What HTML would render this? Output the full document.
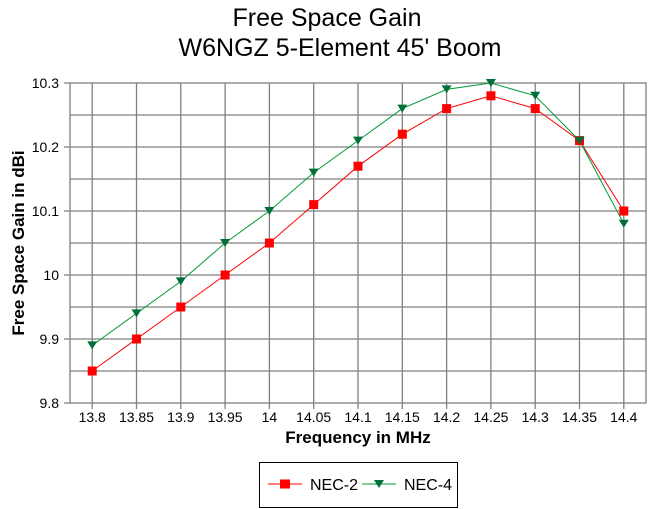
<!DOCTYPE html>
<html><head><meta charset="utf-8"><style>
html,body{margin:0;padding:0;background:#fff;}
svg{display:block;font-family:"Liberation Sans",Arial,sans-serif;}
</style></head><body>
<svg width="651" height="509" viewBox="0 0 651 509" xmlns="http://www.w3.org/2000/svg">
<rect width="651" height="509" fill="#fff"/>
<text x="327" y="26" font-size="25" text-anchor="middle">Free Space Gain</text>
<text x="340" y="56" font-size="25" text-anchor="middle">W6NGZ 5-Element 45' Boom</text>
<g stroke="#808080" stroke-width="1.3" fill="none">
<rect x="70" y="83" width="576" height="320"/>
<path d="M70 115H646M70 147H646M70 179H646M70 211H646M70 243H646M70 275H646M70 307H646M70 339H646M70 371H646"/>
<path d="M92.2 83V403M136.5 83V403M180.8 83V403M225.1 83V403M269.4 83V403M313.7 83V403M358 83V403M402.3 83V403M446.6 83V403M490.9 83V403M535.2 83V403M579.5 83V403M623.8 83V403"/>
<path d="M64 83H70M64 147H70M64 211H70M64 275H70M64 339H70M64 403H70"/>
<path d="M92.2 403V409M136.5 403V409M180.8 403V409M225.1 403V409M269.4 403V409M313.7 403V409M358 403V409M402.3 403V409M446.6 403V409M490.9 403V409M535.2 403V409M579.5 403V409M623.8 403V409"/>
</g>
<g font-size="14" text-anchor="end">
<text x="59" y="88">10.3</text><text x="59" y="152">10.2</text><text x="59" y="216">10.1</text>
<text x="59" y="280">10</text><text x="59" y="344">9.9</text><text x="59" y="408">9.8</text>
</g>
<g font-size="14" text-anchor="middle">
<text x="92.2" y="422">13.8</text><text x="136.5" y="422">13.85</text><text x="180.8" y="422">13.9</text>
<text x="225.1" y="422">13.95</text><text x="269.4" y="422">14</text><text x="313.7" y="422">14.05</text>
<text x="358" y="422">14.1</text><text x="402.3" y="422">14.15</text><text x="446.6" y="422">14.2</text>
<text x="490.9" y="422">14.25</text><text x="535.2" y="422">14.3</text><text x="579.5" y="422">14.35</text>
<text x="623.8" y="422">14.4</text>
</g>
<text x="358" y="443" font-size="17" font-weight="bold" text-anchor="middle">Frequency in MHz</text>
<text transform="translate(24,243) rotate(-90)" font-size="17" font-weight="bold" text-anchor="middle">Free Space Gain in dBi</text>
<polyline fill="none" stroke="#ff0000" stroke-width="1" points="92.2,371 136.5,339 180.8,307 225.1,275 269.4,243 313.7,204.6 358,166.2 402.3,134.2 446.6,108.6 490.9,95.8 535.2,108.6 579.5,140.6 623.8,211"/>
<polyline fill="none" stroke="#009933" stroke-width="1" points="92.2,345.4 136.5,313.4 180.8,281.4 225.1,243 269.4,211 313.7,172.6 358,140.6 402.3,108.6 446.6,89.4 490.9,83 535.2,95.8 579.5,140.6 623.8,223.8"/>
<g fill="#ff0000">
<rect x="87.7" y="366.5" width="9" height="9"/><rect x="132" y="334.5" width="9" height="9"/><rect x="176.3" y="302.5" width="9" height="9"/><rect x="220.6" y="270.5" width="9" height="9"/><rect x="264.9" y="238.5" width="9" height="9"/><rect x="309.2" y="200.1" width="9" height="9"/><rect x="353.5" y="161.7" width="9" height="9"/><rect x="397.8" y="129.7" width="9" height="9"/><rect x="442.1" y="104.1" width="9" height="9"/><rect x="486.4" y="91.3" width="9" height="9"/><rect x="530.7" y="104.1" width="9" height="9"/><rect x="575" y="136.1" width="9" height="9"/><rect x="619.3" y="206.5" width="9" height="9"/>
</g>
<g fill="#00703a">
<path d="M87.2 341.4h10l-5 8z"/><path d="M131.5 309.4h10l-5 8z"/><path d="M175.8 277.4h10l-5 8z"/><path d="M220.1 239h10l-5 8z"/><path d="M264.4 207h10l-5 8z"/><path d="M308.7 168.6h10l-5 8z"/><path d="M353 136.6h10l-5 8z"/><path d="M397.3 104.6h10l-5 8z"/><path d="M441.6 85.4h10l-5 8z"/><path d="M485.9 79h10l-5 8z"/><path d="M530.2 91.8h10l-5 8z"/><path d="M574.5 136.6h10l-5 8z"/><path d="M618.8 219.8h10l-5 8z"/>
</g>
<rect x="259.5" y="462.5" width="198" height="45" fill="none" stroke="#000" stroke-width="1"/>
<line x1="268" y1="484" x2="302" y2="484" stroke="#ff0000"/>
<rect x="280" y="479.5" width="10" height="9" fill="#ff0000"/>
<text x="310" y="490" font-size="16">NEC-2</text>
<line x1="362" y1="484" x2="396" y2="484" stroke="#009933"/>
<path d="M374 480h10l-5 8z" fill="#00703a"/>
<text x="404" y="490" font-size="16">NEC-4</text>
</svg>
</body></html>
